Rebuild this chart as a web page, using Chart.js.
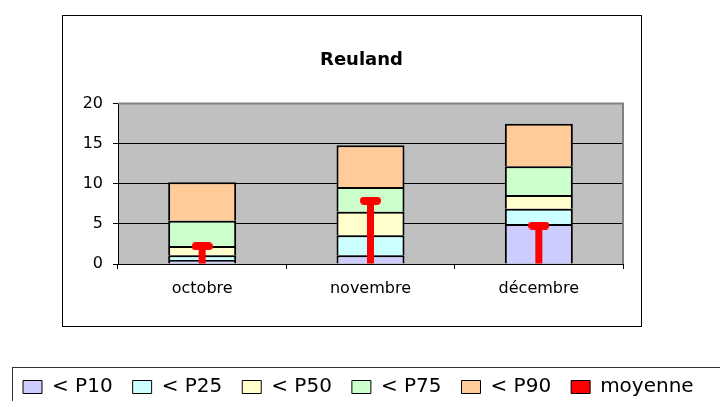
<!DOCTYPE html>
<html>
<head>
<meta charset="utf-8">
<script src="https://cdn.jsdelivr.net/npm/chart.js@4.4.0/dist/chart.umd.min.js"></script>
<style>
  html, body { margin: 0; padding: 0; background: #fff; overflow: hidden; }
</style>
</head>
<body>
<canvas id="chart" width="720" height="401"></canvas>
<script>
const categories = ["octobre", "novembre", "décembre"];
const p10 = [0.5, 1.1, 5.0];
const p25 = [1.1, 3.6, 6.9];
const p50 = [2.25, 6.5, 8.6];
const p75 = [5.4, 9.6, 12.2];
const p90 = [10.2, 14.8, 17.5];
const moyenne = [2.2, 7.9, 4.8];
const yTicks = [0, 5, 10, 15, 20];

Chart.defaults.font.family = "'DejaVu Sans', 'Liberation Sans', Arial, sans-serif";
Chart.defaults.color = "#000";

// floating bars: each band goes from the previous percentile to this one
const band = (lo, hi) => hi.map((v, i) => [lo ? lo[i] : 0, v]);

// red rounded cap on top of the moyenne stem
const cap = document.createElement("canvas");
cap.width = 21;
cap.height = 8;
const cctx = cap.getContext("2d");
cctx.fillStyle = "#ff0000";
cctx.beginPath();
cctx.roundRect(0, 0, 21, 8, 4);
cctx.fill();

const bandBorder = { top: 2, left: 2, right: 2, bottom: 0 };

const frames = {
  id: "frames",
  beforeDraw(chart) {
    const { ctx, chartArea: a } = chart;
    ctx.save();
    ctx.fillStyle = "#fff";
    ctx.fillRect(0, 0, chart.width, chart.height);
    ctx.strokeStyle = "#000";
    ctx.lineWidth = 1;
    ctx.strokeRect(62.5, 15.5, 579, 311);
    ctx.strokeStyle = "#333";
    ctx.strokeRect(12.5, 367.5, 740, 60);
    ctx.fillStyle = "#c0c0c0";
    ctx.fillRect(a.left, a.top, a.right - a.left, a.bottom - a.top);
    ctx.restore();
  },
  beforeDatasetsDraw(chart) {
    const { ctx, chartArea: a } = chart;
    ctx.save();
    ctx.strokeStyle = "#808080";
    ctx.lineWidth = 2;
    ctx.beginPath();
    ctx.moveTo(a.left, a.top);
    ctx.lineTo(a.right, a.top);
    ctx.lineTo(a.right, a.bottom);
    ctx.stroke();
    ctx.restore();
  }
};

new Chart(document.getElementById("chart"), {
  type: "bar",
  data: {
    labels: categories,
    datasets: [
      { label: "< P10", data: band(null, p10), backgroundColor: "#ccccff" },
      { label: "< P25", data: band(p10, p25), backgroundColor: "#ccffff" },
      { label: "< P50", data: band(p25, p50), backgroundColor: "#ffffcc" },
      { label: "< P75", data: band(p50, p75), backgroundColor: "#ccffcc" },
      { label: "< P90", data: band(p75, p90), backgroundColor: "#ffcc99" },
      {
        label: "moyenne", data: band(null, moyenne), backgroundColor: "#ff0000",
        borderWidth: 0, maxBarThickness: 7, barPercentage: 0.1, order: -1
      },
      {
        type: "line", label: "cap", data: moyenne, showLine: false,
        pointStyle: cap, pointRadius: 5, order: -2
      }
    ]
  },
  options: {
    responsive: false,
    animation: false,
    layout: { padding: { left: 3, right: 0, top: 0, bottom: -6 } },
    datasets: {
      bar: {
        grouped: false,
        categoryPercentage: 1,
        barPercentage: 0.404,
        borderColor: "#000",
        borderWidth: bandBorder,
        borderSkipped: false
      }
    },
    scales: {
      x: {
        afterFit: (s) => { s.height = 93; },
        grid: { drawOnChartArea: false, color: "#000", tickLength: 5 },
        border: { color: "#000", width: 1 },
        ticks: { padding: 10, font: { size: 16 } }
      },
      y: {
        min: 0,
        max: 20,
        afterFit: (s) => { s.width = 115; },
        afterBuildTicks: (s) => { s.ticks = yTicks.map((v) => ({ value: v })); },
        grid: { color: "#000", tickLength: 5 },
        border: { color: "#000", width: 1 },
        ticks: { padding: 10, font: { size: 16 } }
      },
      yRight: {
        position: "right",
        afterFit: (s) => { s.width = 97; },
        grid: { display: false },
        border: { display: false },
        ticks: { display: false }
      }
    },
    plugins: {
      tooltip: { enabled: false },
      title: {
        display: true,
        text: "Reuland",
        font: { size: 18, weight: "bold" },
        padding: { top: 50, bottom: 32 }
      },
      legend: {
        position: "bottom",
        align: "start",
        labels: {
          boxWidth: 19,
          boxHeight: 13,
          padding: 20,
          font: { size: 20 },
          generateLabels: (chart) => {
            const items = Chart.defaults.plugins.legend.labels.generateLabels(chart);
            return items
              .filter((i) => i.datasetIndex < 6)
              .sort((a, b) => a.datasetIndex - b.datasetIndex)
              .map((i) => ({ ...i, lineWidth: 1, strokeStyle: "#000" }));
          }
        }
      }
    }
  },
  plugins: [frames]
});
</script>
</body>
</html>
